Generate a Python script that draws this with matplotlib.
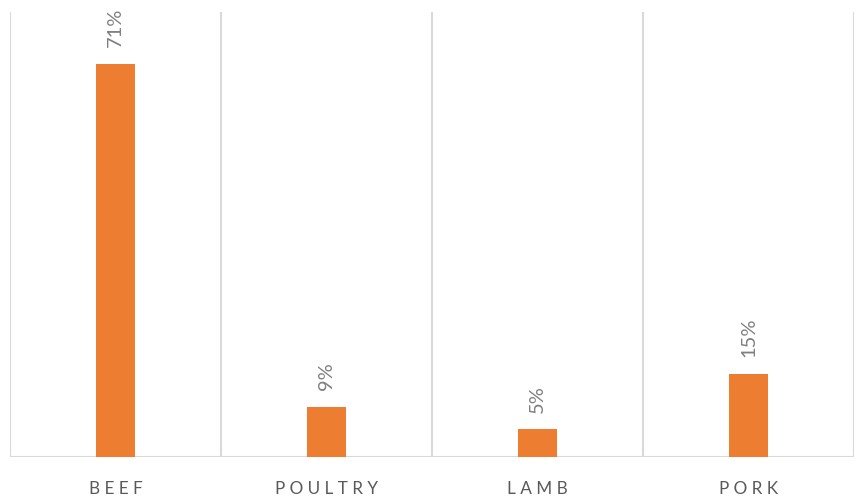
import matplotlib
matplotlib.use("Agg")
import matplotlib.pyplot as plt

categories = ["BEEF", "POULTRY", "LAMB", "PORK"]
shares = [71, 9, 5, 15]
value_labels = ["71%", "9%", "5%", "15%"]

plt.rcParams['font.family'] = ['Lato', 'DejaVu Sans']

fig = plt.figure(figsize=(8.59, 4.98), dpi=100)
ax = fig.add_axes([10 / 859, 41 / 498, 844 / 859, 445 / 498])

x = list(range(len(categories)))
bars = ax.bar(x, shares, width=0.185, color="#ED7D31", zorder=3)

ax.set_xlim(-0.5, len(categories) - 0.5)
ax.set_ylim(0, 80.3)

# vertical separators between categories
for b in range(len(categories) + 1):
    ax.axvline(b - 0.5, color="#d9d9d9", linewidth=1.5, zorder=1)

for spine in ax.spines.values():
    spine.set_visible(False)
ax.axhline(0, color="#d9d9d9", linewidth=1.5, zorder=2)

ax.set_yticks([])
ax.set_xticks(x)
ax.set_xticklabels([" ".join(c) for c in categories], fontsize=12.3, color="#595959")
ax.tick_params(axis="x", length=0, pad=17)

for rect, lab in zip(bars, value_labels):
    ax.annotate(lab, (rect.get_x() + rect.get_width() / 2, rect.get_height()),
                xytext=(0, 12), textcoords="offset points",
                rotation=90, ha="center", va="bottom",
                fontsize=14.5, color="#7f7f7f")

fig.savefig("out.png", dpi=100)
